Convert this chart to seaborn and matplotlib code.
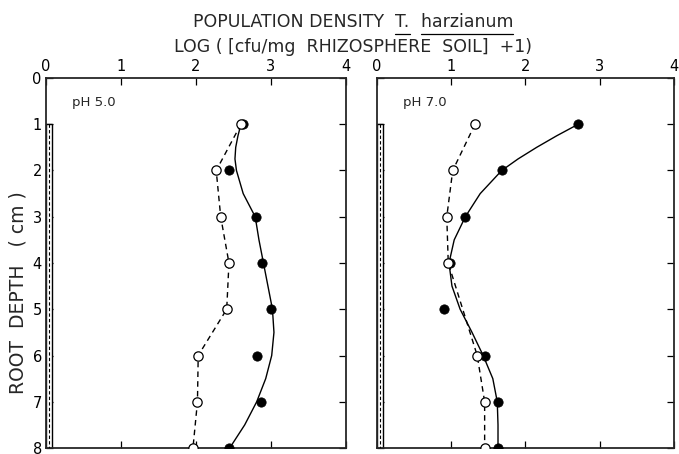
import numpy as np
import pandas as pd
import seaborn as sns
import matplotlib.pyplot as plt
from matplotlib.patches import Rectangle
from matplotlib.lines import Line2D

sns.set_style("ticks")
plt.rcParams['font.family'] = ['DejaVu Sans']

# root depth (cm)
depth = [1, 2, 3, 4, 5, 6, 7, 8]

# pH 5.0 measured points
ph5_open = [2.60, 2.27, 2.33, 2.44, 2.41, 2.03, 2.02, 1.96]
ph5_filled = [2.63, 2.44, 2.80, 2.88, 3.00, 2.82, 2.87, 2.44]

# pH 7.0 measured points (no open point at 5 cm)
ph7_open = [1.32, 1.02, 0.94, 0.96, np.nan, 1.35, 1.45, 1.45]
ph7_filled = [2.71, 1.68, 1.19, 0.98, 0.90, 1.45, 1.63, 1.63]

# hand drawn smooth curves through the filled points
curve_depth = [1, 1.25, 1.5, 1.75, 2, 2.5, 3, 3.5, 4, 4.5, 5, 5.5, 6, 6.5, 7, 7.5, 8]
ph5_curve = [2.60, 2.56, 2.53, 2.52, 2.54, 2.63, 2.79, 2.84, 2.90, 2.96, 3.02, 3.04, 3.01, 2.93, 2.81, 2.65, 2.45]
ph7_curve = [2.71, 2.42, 2.15, 1.90, 1.68, 1.39, 1.19, 1.04, 0.97, 1.01, 1.12, 1.28, 1.43, 1.56, 1.62, 1.63, 1.63]

x_ticks = [0, 1, 2, 3, 4]
y_ticks = [0, 1, 2, 3, 4, 5, 6, 7, 8]
root_width = 0.08

panels = [
    ("pH 5.0", ph5_open, ph5_filled, ph5_curve),
    ("pH 7.0", ph7_open, ph7_filled, ph7_curve),
]

fig = plt.figure(figsize=(6.79, 4.54), dpi=100)
axes = [fig.add_axes([0.0677, 0.0132, 0.4418, 0.815]),
        fig.add_axes([0.5552, 0.0132, 0.4374, 0.815])]

for ax, (label, open_v, filled_v, curve_v) in zip(axes, panels):
    df_open = pd.DataFrame({"depth": depth, "val": open_v}).dropna()
    df_fill = pd.DataFrame({"depth": depth, "val": filled_v})
    df_curve = pd.DataFrame({"depth": curve_depth, "val": curve_v})

    # root (double line with dashed centre)
    ax.add_patch(Rectangle((0, 1), root_width, 7, facecolor="white",
                           edgecolor="black", lw=1.0, zorder=2))
    ax.plot([root_width / 2, root_width / 2], [1, 8], color="black",
            lw=0.8, ls=(0, (3, 2)), zorder=3)

    sns.lineplot(data=df_curve, x="val", y="depth", sort=False, estimator=None,
                 color="black", lw=1.0, ax=ax, zorder=3)
    sns.lineplot(data=df_open, x="val", y="depth", sort=False, estimator=None,
                 color="black", lw=1.0, ls=(0, (4, 3)), ax=ax, zorder=3)
    sns.scatterplot(data=df_fill, x="val", y="depth", color="black",
                    edgecolor="black", s=45, ax=ax, zorder=4)
    sns.scatterplot(data=df_open, x="val", y="depth", color="white",
                    edgecolor="black", linewidth=0.9, s=45, ax=ax, zorder=5)

    ax.set_xlim(0, 4)
    ax.set_ylim(8, 0)
    ax.set_xticks(x_ticks)
    ax.set_yticks(y_ticks)
    ax.xaxis.tick_top()
    ax.tick_params(axis="both", direction="in", length=5, width=0.9,
                   top=True, bottom=True, left=True, right=True,
                   labelsize=10.5, colors="black", pad=3)
    ax.set_xlabel("")
    ax.set_ylabel("")
    for sp in ax.spines.values():
        sp.set_linewidth(1.3)
        sp.set_visible(True)
    ax.text(0.35, 0.52, label, fontsize=9.5, va="center", ha="left")

axes[1].tick_params(labelleft=False)
axes[0].set_ylabel("ROOT  DEPTH   ( cm )", fontsize=13.5)
axes[0].yaxis.set_label_coords(-0.06, 0.42)

# title, with "T." and "harzianum" underlined
renderer = fig.canvas.get_renderer()
title_parts = ["POPULATION DENSITY  ", "T.", "  harzianum"]
underlined = [False, True, True]
texts = [fig.text(0, 0.952, p, ha="left", va="center", fontsize=12.5) for p in title_parts]
widths = [t.get_window_extent(renderer).width / fig.bbox.width for t in texts]
x = 0.52 - sum(widths) / 2
for t, w, ul in zip(texts, widths, underlined):
    t.set_x(x)
    if ul:
        stripped = fig.text(0, 0, t.get_text().lstrip(), fontsize=12.5)
        sw = stripped.get_window_extent(renderer).width / fig.bbox.width
        stripped.remove()
        x0 = x + w - sw
        fig.add_artist(Line2D([x0, x + w], [0.926, 0.926], color="black", lw=0.9,
                              transform=fig.transFigure))
    x += w

fig.text(0.52, 0.897, "LOG ( [cfu/mg  RHIZOSPHERE  SOIL]  +1)",
         ha="center", va="center", fontsize=12.5)

fig.savefig("out.png", dpi=100)
